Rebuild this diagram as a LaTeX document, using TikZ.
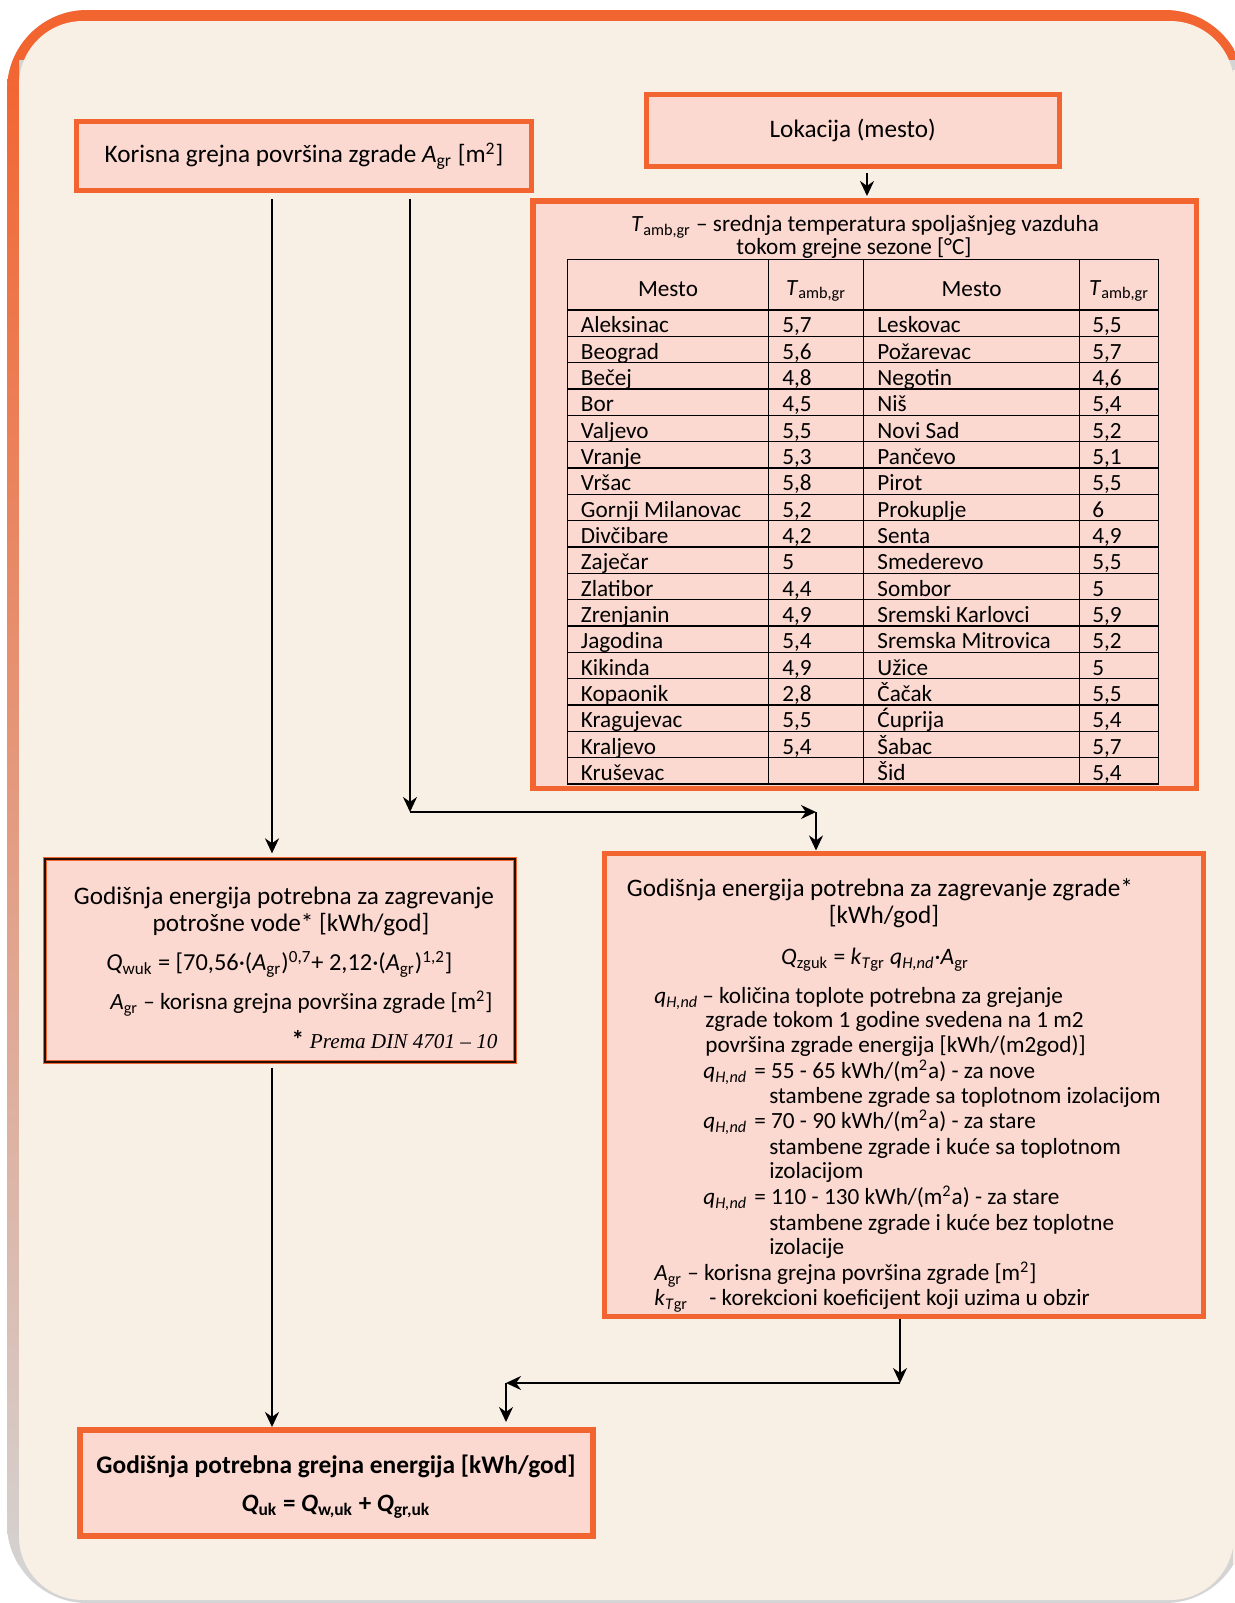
\documentclass[tikz,border=0pt]{standalone}
\usepackage{fontspec}
\setmainfont{Carlito}
\newfontfamily\timesfont{Liberation Serif}
\usetikzlibrary{positioning}
\usetikzlibrary{calc}
\usetikzlibrary{arrows.meta}

\definecolor{framered}{RGB}{242,101,49}
\definecolor{framegray}{RGB}{212,212,212}
\definecolor{cream}{RGB}{248,239,229}
\definecolor{boxfill}{RGB}{252,217,208}
\definecolor{boxline}{RGB}{242,101,49}

\newcommand{\Tamb}{\textit{T}\textsubscript{amb,gr}}
\newcommand{\Agr}{\textit{A}\textsubscript{gr}}
\newcommand{\qHnd}{\textit{q}\textsubscript{\textit{H,nd}}}
\newcommand{\kTgr}{\textit{k}\textsubscript{\textit{T}gr}}
\newcommand{\msq}{m\textsuperscript{2}}

\begin{document}
\begin{tikzpicture}[x=0.5pt,y=-0.5pt,
  box/.style={draw=boxline,fill=boxfill,line width=2.5pt,inner sep=0pt},
  bigfont/.style={font=\fontsize{12.6}{15}\selectfont},
  big/.style={bigfont,inner sep=0pt,yshift=-2pt},
  small/.style={inner sep=0pt,yshift=-2pt,font=\fontsize{11.6}{14}\selectfont},
  cell/.style={small,anchor=mid west},
  tabline/.style={line width=0.6pt,black},
  arr/.style={-{Stealth[length=7.5pt,width=7pt]},line width=1pt}]

\useasboundingbox (0,0) rectangle (1235,1603);

\fill[framegray,rounded corners=40] (7,10) rectangle (1245,1603);
\begin{scope}
\clip[rounded corners=40] (7,10) rectangle (1245,1603);
\fill[framered] (7,10) rectangle (1245,60);
\shade[top color=framered,middle color=framered!75!framegray,bottom color=framegray] (7,60) rectangle (19,1603);
\end{scope}
\fill[cream,rounded corners=32] (19,21) rectangle (1234,1600);
\fill[cream] (1233,70) rectangle (1235,1565);

\node[box,minimum width=227.5pt,minimum height=34.5pt,bigfont](korisna) at (304,156){Korisna grejna površina zgrade \Agr{} [\msq]};
\node[box,minimum width=206.75pt,minimum height=36pt,bigfont](lokacija) at (852.75,130.5){Lokacija (mesto)};
\node[box,line width=2.75pt,minimum width=331.75pt,minimum height=293.75pt](tab) at (864.5,494.5){};
\node[draw=boxline,fill=boxfill,line width=0.65pt,double=black!85!boxline,double distance=0.9pt,
  minimum width=235pt,minimum height=101.5pt](wuk) at (280,960.5){};
\node[box,minimum width=299.5pt,minimum height=231.75pt](zg) at (904,1084.75){};
\node[box,line width=3pt,minimum width=256.5pt,minimum height=53pt](uk) at (336.5,1483){};

\node[small](tabt1) at (865,223){\Tamb{} – srednja temperatura spoljašnjeg vazduha};
\node[small](tabt2) at (854,244){tokom grejne sezone [°C]};

\draw[tabline] (567.4,259.7) rectangle (1158.3,784);
\foreach \c in {768.8,863.8,1079.5}
  \draw[tabline] (\c,259.7) -- (\c,784);
\foreach \r in {0,...,17}
  \draw[tabline] (567.4,{310+\r*26.33}) -- (1158.3,{310+\r*26.33});

\node[small](hma) at (668,285){Mesto};
\node[small](hva) at (816,287){\Tamb};
\node[small](hmb) at (971.6,285){Mesto};
\node[small](hvb) at (1119,287){\Tamb};

\foreach \ma/\va/\mb/\vb [count=\i] in {
  Aleksinac/5{,}7/Leskovac/5{,}5,
  Beograd/5{,}6/Požarevac/5{,}7,
  Bečej/4{,}8/Negotin/4{,}6,
  Bor/4{,}5/Niš/5{,}4,
  Valjevo/5{,}5/Novi Sad/5{,}2,
  Vranje/5{,}3/Pančevo/5{,}1,
  Vršac/5{,}8/Pirot/5{,}5,
  Gornji Milanovac/5{,}2/Prokuplje/6,
  Divčibare/4{,}2/Senta/4{,}9,
  Zaječar/5/Smederevo/5{,}5,
  Zlatibor/4{,}4/Sombor/5,
  Zrenjanin/4{,}9/Sremski Karlovci/5{,}9,
  Jagodina/5{,}4/Sremska Mitrovica/5{,}2,
  Kikinda/4{,}9/Užice/5,
  Kopaonik/2{,}8/Čačak/5{,}5,
  Kragujevac/5{,}5/Ćuprija/5{,}4,
  Kraljevo/5{,}4/Šabac/5{,}7,
  Kruševac//Šid/5{,}4}
{
  \node[cell](ma\i) at (580.5,{311+(\i-0.5)*26.33}){\ma};
  \node[cell](va\i) at (782,{311+(\i-0.5)*26.33}){\va};
  \node[cell](mb\i) at (877,{311+(\i-0.5)*26.33}){\mb};
  \node[cell](vb\i) at (1092,{311+(\i-0.5)*26.33}){\vb};
}

\node[big](wukt1) at (284,893.5){Godišnja energija potrebna za zagrevanje};
\node[big](wukt2) at (291,921){potrošne vode* [kWh/god]};
\node[big,font=\fontsize{12.2}{15}\selectfont,anchor=mid west](wukf) at (106,962){\textit{Q}\textsubscript{wuk} = [70,56·(\Agr)\textsuperscript{0,7}+ 2,12·(\Agr)\textsuperscript{1,2}]};
\node[small,anchor=mid west](wukagr) at (110,1001){\Agr{} – korisna grejna površina zgrade [\msq]};
\node[big,anchor=mid east](wukdin) at (498,1040){\textbf{*} {\timesfont\itshape\fontsize{10.6}{13}\selectfont Prema DIN 4701 – 10}};

\node[big](zgt1) at (880,886){Godišnja energija potrebna za zagrevanje zgrade*};
\node[big](zgt2) at (884,913){[kWh/god]};
\node[big,font=\fontsize{11.8}{14}\selectfont](zgf) at (875,956){\textit{Q}\textsubscript{zguk} = \kTgr{} \qHnd·\Agr};
\node[small,anchor=mid west](zgq) at (654,995){\qHnd};
\node[small,anchor=mid west](zgq1) at (702,995){– količina toplote potrebna za grejanje};
\node[small,anchor=mid west](zgq2) at (705,1019){zgrade tokom 1 godine svedena na 1 m2};
\node[small,anchor=mid west](zgq3) at (705,1044){površina zgrade energija [kWh/(m2god)]};
\node[small,anchor=mid west](zga) at (703,1070){\qHnd};
\node[small,anchor=mid west](zga1) at (754,1070){= 55 - 65 kWh/(\msq a) - za nove};
\node[small,anchor=mid west](zga2) at (769,1095){stambene zgrade sa toplotnom izolacijom};
\node[small,anchor=mid west](zgb) at (703,1120){\qHnd};
\node[small,anchor=mid west](zgb1) at (754,1120){= 70 - 90 kWh/(\msq a) - za stare};
\node[small,anchor=mid west](zgb2) at (769,1146){stambene zgrade i kuće sa toplotnom};
\node[small,anchor=mid west](zgb3) at (769,1170){izolacijom};
\node[small,anchor=mid west](zgc) at (703,1196){\qHnd};
\node[small,anchor=mid west](zgc1) at (754,1196){= 110 - 130 kWh/(\msq a) - za stare};
\node[small,anchor=mid west](zgc2) at (769,1222){stambene zgrade i kuće bez toplotne};
\node[small,anchor=mid west](zgc3) at (769,1246){izolacije};
\node[small,anchor=mid west](zgagr) at (654,1272){\Agr{} – korisna grejna površina zgrade [\msq]};
\node[small,anchor=mid west](zgk) at (654,1297){\kTgr};
\node[small,anchor=mid west](zgk1) at (709,1297){- korekcioni koeficijent koji uzima u obzir};

\node[big,font=\fontsize{12.7}{15}\bfseries](ukt1) at (336,1462){Godišnja potrebna grejna energija [kWh/god]};
\node[big,font=\fontsize{12.5}{15}\bfseries](ukt2) at (336,1503){\textit{Q}\textsubscript{uk} = \textit{Q}\textsubscript{w,uk} + \textit{Q}\textsubscript{gr,uk}};

\coordinate (xa) at (272,0);
\coordinate (xb) at (410,0);
\coordinate (xc) at (867,0);
\coordinate (j1) at (410,812);
\coordinate (j2) at (816,812);
\coordinate (j3) at (900,1383);
\coordinate (j4) at (506,1383);

\path
(lokacija.south -| xc) edge[arr,shorten <=2pt,shorten >=1pt] (tab.north -| xc)
(korisna.south -| xa) edge[arr,shorten <=3pt,shorten >=2.5pt] (wuk.north -| xa)
(korisna.south -| xb) edge[arr,shorten <=3pt] (j1)
(j1) edge[arr] (j2)
(j2) edge[arr] (zg.north -| j2)
(wuk.south -| xa) edge[arr,shorten <=2.5pt] (uk.north -| xa)
(zg.south -| j3) edge[arr] (j3)
(j3) edge[arr] (j4)
(j4) edge[arr,shorten >=2.5pt] (uk.north -| j4);
\end{tikzpicture}
\end{document}
